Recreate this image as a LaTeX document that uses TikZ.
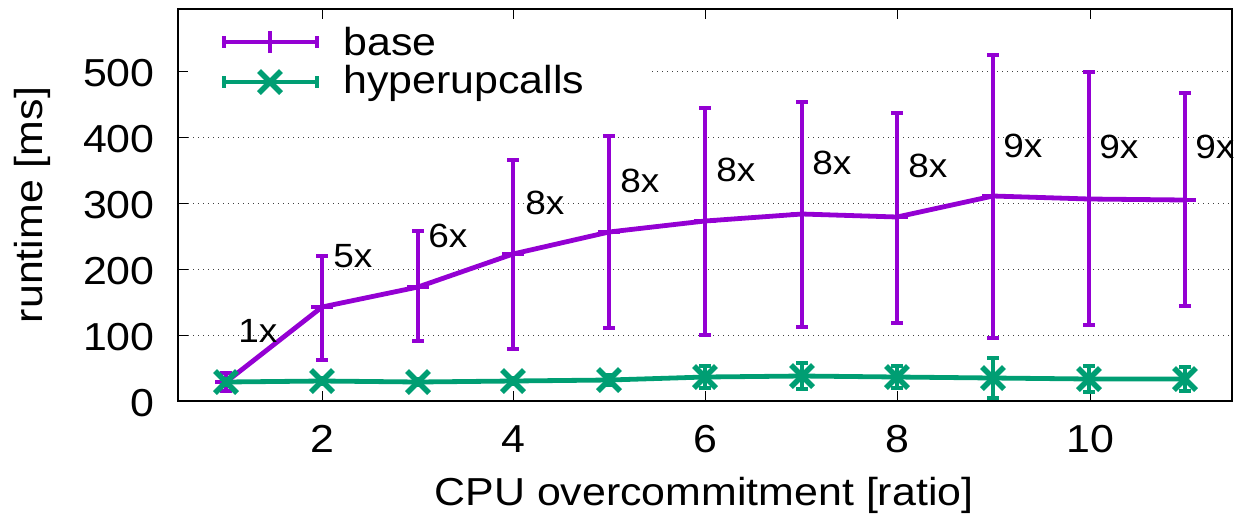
\documentclass[tikz,border=0pt]{standalone}
\usepackage{fontspec}
\setmainfont[FakeStretch=1.1]{Liberation Sans}
\definecolor{cbase}{HTML}{9400D3}
\definecolor{chyp}{HTML}{009E73}
\begin{document}
\begin{tikzpicture}[x=0.5pt,y=-0.5pt,
  frame/.style={draw=black, line width=1pt},
  gridline/.style={draw=black!75, line width=0.5pt, dash pattern=on 0.5pt off 2pt},
  tickmark/.style={draw=black, line width=0.5pt},
  bigtext/.style={font=\fontsize{19.5}{22}\selectfont, inner sep=0pt},
  ratiotext/.style={font=\fontsize{16.8}{20}\selectfont, inner sep=0pt, anchor=base west},
  baseplot/.style={draw=cbase, line width=2.4pt, line join=round},
  basebar/.style={draw=cbase, line width=2pt},
  hypplot/.style={draw=chyp, line width=2.4pt, line join=round},
  hypbar/.style={draw=chyp, line width=2pt},
  hypmark/.style={draw=chyp, line width=2.7pt}]
\useasboundingbox (0,0) rectangle (1238,516);

% grid lines
\foreach \yy in {335,269,203,137} {\draw[gridline] (178,\yy) -- (1232,\yy);}
\draw[gridline] (652,71) -- (1232,71);

% ticks
\foreach \xx in {322,513,705,897,1090} {
  \draw[tickmark] (\xx,401) -- (\xx,391);
  \draw[tickmark] (\xx,9) -- (\xx,19);
}
\foreach \yy in {335,269,203,137,71} {\draw[tickmark] (178,\yy) -- (188,\yy);}

% tick labels
\foreach \xx/\lab in {322/2,513/4,705/6,897/8,1090/10} {
  \node[bigtext, anchor=base] (xl\lab) at (\xx,452) {\lab};
}
\foreach \yy/\lab in {416/0,350/100,284/200,218/300,152/400,86/500} {
  \node[bigtext, anchor=base east] (yl\lab) at (155,\yy) {\lab};
}
\node[bigtext, anchor=base] (xlabel) at (704,505) {CPU overcommitment [ratio]};
\node[bigtext, anchor=base, rotate=90] (ylabel) at (42,205) {runtime [ms]};

% base series
\foreach \i/\xx/\yy/\tp/\bt in {1/226/382/373/391, 2/322/307/256/360, 3/418/287/231/341,
  4/513/254/160/349, 5/609/232/136/328, 6/705/221/108/335, 7/802/214/102/327,
  8/897/217/113/323, 9/993/196/55/338, 10/1089/199/72/325, 11/1185/200/93/306} {
  \coordinate (b\i) at (\xx,\yy);
  \coordinate (bt\i) at (\xx,\tp);
  \coordinate (bb\i) at (\xx,\bt);
  \draw[basebar] (bt\i) -- (bb\i);
  \draw[basebar] ([xshift=-3pt]bt\i) -- ([xshift=3pt]bt\i);
  \draw[basebar] ([xshift=-3pt]bb\i) -- ([xshift=3pt]bb\i);
}
\draw[baseplot] (b1) \foreach \i in {2,...,11} { -- (b\i) };
\foreach \i in {1,...,11} {
  \draw[baseplot] ([xshift=-5.5pt]b\i) -- ([xshift=5.5pt]b\i);
}

% hyperupcalls series
\foreach \i/\xx/\yy/\hh in {1/226/382/3, 2/322/381/3, 3/418/382/3, 4/513/381/3,
  5/609/380/5, 6/705/377/11, 7/802/376/13, 8/897/377/11, 9/993/378/20,
  10/1089/379/13, 11/1185/379/12} {
  \coordinate (h\i) at (\xx,\yy);
  \coordinate (ht\i) at (\xx,\yy-\hh);
  \coordinate (hb\i) at (\xx,\yy+\hh);
  \draw[hypbar] (ht\i) -- (hb\i);
  \draw[hypbar] ([xshift=-3pt]ht\i) -- ([xshift=3pt]ht\i);
  \draw[hypbar] ([xshift=-3pt]hb\i) -- ([xshift=3pt]hb\i);
}
\draw[hypplot] (h1) \foreach \i in {2,...,11} { -- (h\i) };
\foreach \i in {1,...,11} {
  \draw[hypmark] ([shift={(-5.5pt,-5.5pt)}]h\i) -- ([shift={(5.5pt,5.5pt)}]h\i);
  \draw[hypmark] ([shift={(-5.5pt,5.5pt)}]h\i) -- ([shift={(5.5pt,-5.5pt)}]h\i);
}

% ratio labels
\foreach \xx/\yy/\lab [count=\k] in {238/342/1x, 333/267/5x, 428/247/6x, 525/214/8x,
  620/192/8x, 716/181/8x, 812/174/8x, 908/177/8x, 1003/157/9x, 1099/158/9x, 1195/158/9x} {
  \node[ratiotext] (r\k) at (\xx,\yy) {\lab};
}

% legend
\coordinate (lb1) at (224,42); \coordinate (lb2) at (317,42); \coordinate (lbm) at (270,42);
\draw[baseplot] (lb1) -- (lb2);
\draw[basebar] ([yshift=-2.8pt]lb1) -- ([yshift=2.8pt]lb1);
\draw[basebar] ([yshift=-2.8pt]lb2) -- ([yshift=2.8pt]lb2);
\draw[baseplot] ([yshift=-5.5pt]lbm) -- ([yshift=5.5pt]lbm);
\node[bigtext, anchor=base west] (lgbase) at (343,55) {base};

\coordinate (lh1) at (224,82); \coordinate (lh2) at (317,82); \coordinate (lhm) at (270,82);
\draw[hypplot] (lh1) -- (lh2);
\draw[hypbar] ([yshift=-2.8pt]lh1) -- ([yshift=2.8pt]lh1);
\draw[hypbar] ([yshift=-2.8pt]lh2) -- ([yshift=2.8pt]lh2);
\draw[hypmark] ([shift={(-5.5pt,-5.5pt)}]lhm) -- ([shift={(5.5pt,5.5pt)}]lhm);
\draw[hypmark] ([shift={(-5.5pt,5.5pt)}]lhm) -- ([shift={(5.5pt,-5.5pt)}]lhm);
\node[bigtext, anchor=base west] (lghyp) at (343,93) {hyperupcalls};

% frame
\draw[frame] (178,9) rectangle (1232,401);
\end{tikzpicture}
\end{document}
